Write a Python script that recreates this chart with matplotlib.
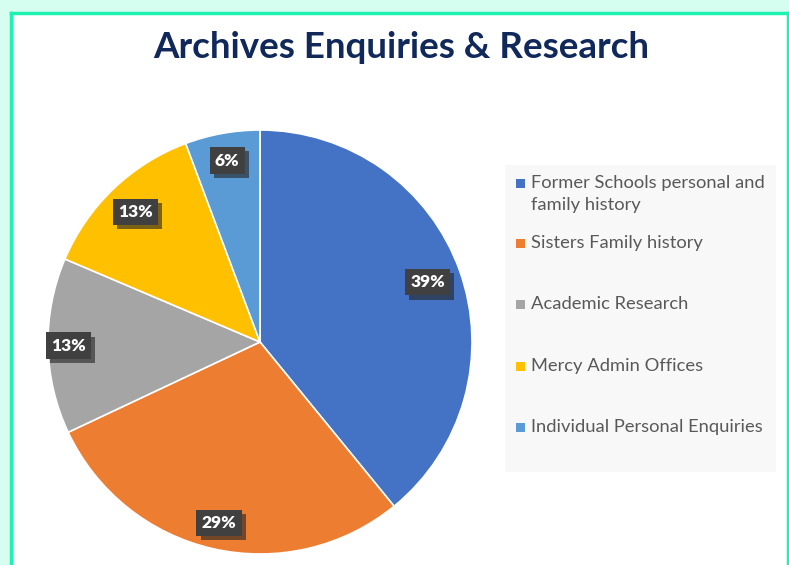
import numpy as np
import matplotlib
matplotlib.use("Agg")
import matplotlib.pyplot as plt
from matplotlib.patches import Rectangle
import matplotlib.patheffects as pe

categories = ["Former Schools personal and\nfamily history", "Sisters Family history",
              "Academic Research", "Mercy Admin Offices", "Individual Personal Enquiries"]
values = [39.1, 28.9, 13.4, 12.9, 5.7]
colors = ["#4472C4", "#ED7D31", "#A5A5A5", "#FFC000", "#5B9BD5"]
label_dist = [0.84, 0.875, 0.905, 0.85, 0.87]
title = "Archives Enquiries & Research"

W, H = 789, 565
fig = plt.figure(figsize=(W / 100, H / 100), dpi=100)
fig.patch.set_facecolor("#D5FDF0")

# white panel with border
fig.patches.append(Rectangle((10 / W, 0), (788 - 10) / W, (H - 12) / H, transform=fig.transFigure,
                             facecolor="white", edgecolor="none", zorder=-5))
fig.add_artist(plt.Line2D([10.5 / W, 10.5 / W], [0, 1 - 12.5 / H], transform=fig.transFigure,
                          color="#1DF2B0", lw=2.5, zorder=-4))
fig.add_artist(plt.Line2D([10.5 / W, 788 / W], [1 - 12.5 / H, 1 - 12.5 / H], transform=fig.transFigure,
                          color="#1DF2B0", lw=2.5, zorder=-4))
fig.add_artist(plt.Line2D([787.8 / W, 787.8 / W], [0, 1 - 12.5 / H], transform=fig.transFigure,
                          color="#1DF2B0", lw=2.5, zorder=-4))

cx, cy, R = 260, 342, 212
ax = fig.add_axes([(cx - R) / W, (H - cy - R) / H, 2 * R / W, 2 * R / H])
ax.set_zorder(5)
ax.patch.set_alpha(0)
wedges, _ = ax.pie(values, colors=colors, startangle=90, counterclock=False,
                   wedgeprops=dict(edgecolor="white", linewidth=1.2), radius=1.0)
ax.set_xlim(-1, 1)
ax.set_ylim(-1, 1)
ax.set_aspect("auto")
ax.axis("off")

total = sum(values)
for w, v, d in zip(wedges, values, label_dist):
    ang = np.deg2rad((w.theta1 + w.theta2) / 2)
    x, y = d * np.cos(ang), d * np.sin(ang)
    t = ax.text(x, y, f"{v / total * 100:.0f}%", ha="center", va="center", color="white",
                fontsize=12.5, fontweight="heavy", family="Lato",
                bbox=dict(boxstyle="square,pad=0.3", facecolor="#404040", edgecolor="none"))
    t.get_bbox_patch().set_path_effects([pe.withSimplePatchShadow(offset=(3, -3), shadow_rgbFace="#222222", alpha=0.6), pe.Normal()])

fig.text(401 / W, 1 - 47 / H, title, ha="center", va="center", fontsize=26.5, fontweight="bold",
         color="#10285A", family="Lato")

# legend
fig.patches.append(Rectangle((505 / W, 1 - 472 / H), (776 - 505) / W, (472 - 165) / H,
                             transform=fig.transFigure, facecolor="#F8F8F8", edgecolor="none", zorder=1))
ys = [194, 243, 304, 366, 427]
for c, lab, y in zip(colors, categories, ys):
    sq_y = 184 if "\n" in lab else y
    fig.patches.append(Rectangle((516 / W, 1 - (sq_y + 4.5) / H), 8.5 / W, 9 / H,
                                 transform=fig.transFigure, facecolor=c, edgecolor="none", zorder=2))
    fig.text(531 / W, 1 - y / H, lab, ha="left", va="center", fontsize=13.2, color="#595959",
             family="Lato", linespacing=1.45, zorder=3)

fig.savefig("out.png", dpi=100)
